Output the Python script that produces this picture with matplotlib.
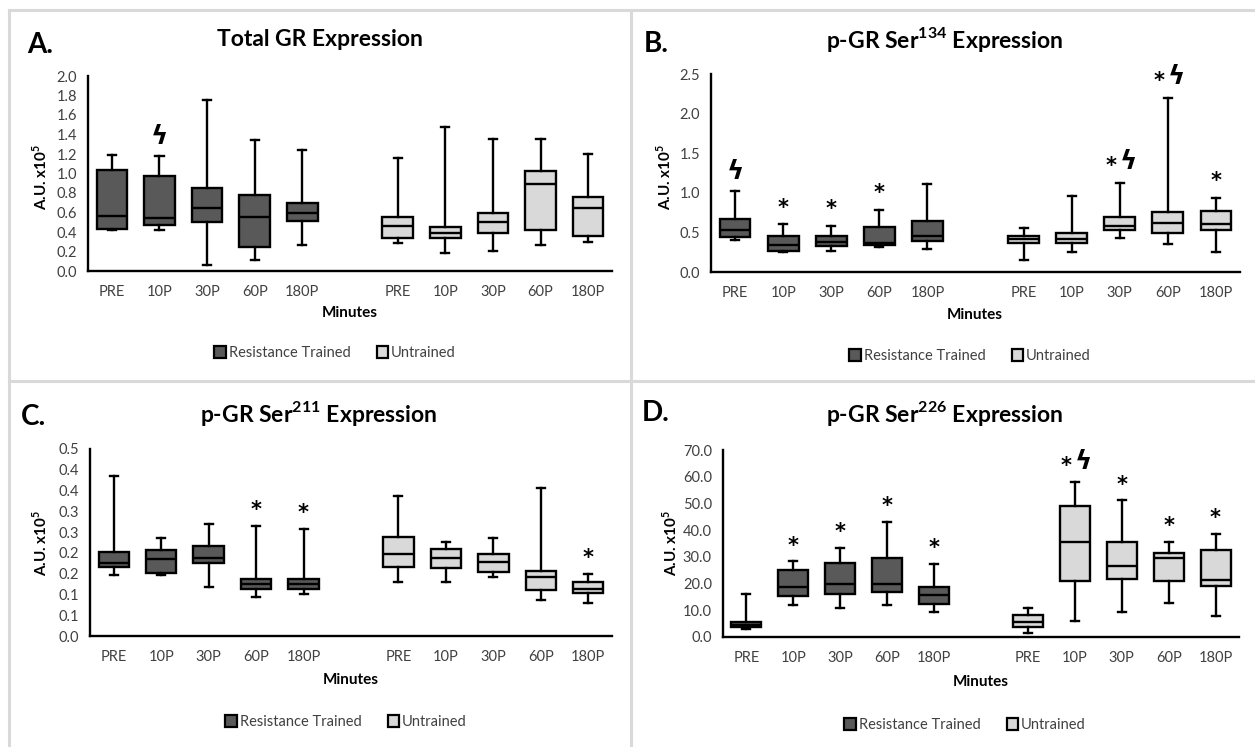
import matplotlib
matplotlib.use('Agg')
import matplotlib.pyplot as plt
from matplotlib.patches import Patch
from matplotlib.lines import Line2D

plt.rcParams['font.family'] = ['Lato', 'DejaVu Sans']
plt.rcParams['mathtext.fontset'] = 'custom'
plt.rcParams['mathtext.rm'] = 'Lato'
plt.rcParams['mathtext.bf'] = 'Lato:bold'

W, H = 1255, 747

# categories
times = ['PRE', '10P', '30P', '60P', '180P']
groups = ['Resistance Trained', 'Untrained']
positions = [1, 2, 3, 4, 5, 7, 8, 9, 10, 11]
tick_labels = times + times
dark = '#595959'
light = '#d9d9d9'

# A. Total GR
a_lo = [0.42, 0.42, 0.06, 0.11, 0.27, 0.29, 0.18, 0.21, 0.27, 0.30]
a_q1 = [0.435, 0.47, 0.50, 0.25, 0.51, 0.34, 0.34, 0.39, 0.42, 0.36]
a_med = [0.56, 0.54, 0.65, 0.555, 0.60, 0.466, 0.39, 0.50, 0.89, 0.65]
a_q3 = [1.04, 0.976, 0.85, 0.78, 0.70, 0.555, 0.45, 0.60, 1.03, 0.76]
a_hi = [1.19, 1.18, 1.75, 1.34, 1.24, 1.16, 1.48, 1.35, 1.35, 1.20]
a_sig = ['', 'ϟ', '', '', '', '', '', '', '', '']
a_ticks = [0.0, 0.2, 0.4, 0.6, 0.8, 1.0, 1.2, 1.4, 1.6, 1.8, 2.0]
a_ticklabels = ['0.0', '0.2', '0.4', '0.6', '0.8', '1.0', '1.2', '1.4', '1.6', '1.8', '2.0']

# B. p-GR Ser134
b_lo = [0.40, 0.25, 0.27, 0.31, 0.29, 0.15, 0.25, 0.43, 0.35, 0.25]
b_q1 = [0.44, 0.27, 0.33, 0.345, 0.39, 0.36, 0.37, 0.535, 0.49, 0.53]
b_med = [0.53, 0.34, 0.38, 0.36, 0.46, 0.42, 0.42, 0.58, 0.62, 0.61]
b_q3 = [0.67, 0.45, 0.46, 0.57, 0.65, 0.46, 0.49, 0.70, 0.755, 0.77]
b_hi = [1.02, 0.60, 0.58, 0.78, 1.11, 0.55, 0.96, 1.12, 2.20, 0.94]
b_sig = ['ϟ', '*', '*', '*', '', '', '', '*ϟ', '*ϟ', '*']
b_ticks = [0.0, 0.5, 1.0, 1.5, 2.0, 2.5]
b_ticklabels = ['0.0', '0.5', '1.0', '1.5', '2.0', '2.5']

# C. p-GR Ser211
c_lo = [0.147, 0.147, 0.117, 0.094, 0.100, 0.130, 0.130, 0.141, 0.086, 0.080]
c_q1 = [0.165, 0.152, 0.176, 0.113, 0.113, 0.167, 0.163, 0.154, 0.110, 0.104]
c_med = [0.175, 0.185, 0.188, 0.124, 0.125, 0.198, 0.187, 0.179, 0.143, 0.112]
c_q3 = [0.203, 0.207, 0.217, 0.138, 0.136, 0.239, 0.209, 0.198, 0.156, 0.131]
c_hi = [0.384, 0.235, 0.269, 0.265, 0.257, 0.337, 0.227, 0.237, 0.356, 0.150]
c_sig = ['', '', '', '*', '*', '', '', '', '', '*']
c_ticks = [0.0, 0.05, 0.10, 0.15, 0.20, 0.25, 0.30, 0.35, 0.40, 0.45]
c_ticklabels = ['0.0', '0.1', '0.1', '0.2', '0.2', '0.3', '0.3', '0.4', '0.4', '0.5']

# D. p-GR Ser226
d_lo = [3.0, 12.0, 11.0, 12.0, 9.5, 1.5, 6.1, 9.2, 12.6, 8.0]
d_q1 = [3.7, 15.4, 16.2, 16.7, 12.2, 3.6, 20.9, 21.7, 20.8, 19.2]
d_med = [4.5, 18.8, 20.0, 20.0, 15.6, 5.5, 35.5, 26.5, 29.4, 21.2]
d_q3 = [5.5, 25.2, 27.8, 29.5, 18.8, 8.2, 48.9, 35.4, 31.5, 32.6]
d_hi = [16.2, 28.3, 33.3, 43.2, 27.4, 10.8, 57.9, 51.1, 35.6, 38.6]
d_sig = ['', '*', '*', '*', '*', '', '*ϟ', '*', '*', '*']
d_ticks = [0, 10, 20, 30, 40, 50, 60, 70]
d_ticklabels = ['0.0', '10.0', '20.0', '30.0', '40.0', '50.0', '60.0', '70.0']


def fx(x):
    return x / W


def fy(y):
    return 1 - y / H


fig = plt.figure(figsize=(W / 100, H / 100), dpi=100)

# panel borders
for xs, ys in [((9, W), (10, 10)), ((9, 9), (10, H)), ((631, 631), (10, H)), ((9, W), (381, 381))]:
    fig.add_artist(Line2D([fx(xs[0]), fx(xs[1])], [fy(ys[0]), fy(ys[1])],
                          color='#d9d9d9', lw=2.2, transform=fig.transFigure))


def mark(ax, x, y, s):
    # star and/or lightning sign above a box
    if s == '*ϟ':
        parts = [('*', -6, 0), ('ϟ', 6, 3)]
    else:
        parts = [(s, 0, 2 if s == 'ϟ' else 0)]
    for ch, dx, dy in parts:
        size = 19 if ch == 'ϟ' else 15
        ax.annotate(ch, (x, y), xytext=(dx, dy), textcoords='offset points', ha='center', va='center',
                    fontsize=size, fontweight='bold', family=['DejaVu Sans'])


def panel(rect, lo, q1, med, q3, hi, sig, ticks, ticklabels, title, letter, tpos, lpos, xlab, ylab, leg):
    l, r, t, b = rect
    ax = fig.add_axes([fx(l), fy(b), fx(r) - fx(l), fy(t) - fy(b)])
    stats = [dict(whislo=lo[i], q1=q1[i], med=med[i], q3=q3[i], whishi=hi[i]) for i in range(len(lo))]
    bp = ax.bxp(stats, positions=positions, widths=0.64, showfliers=False, patch_artist=True,
                capwidths=0.17,
                boxprops=dict(linewidth=1.7, edgecolor='black'),
                medianprops=dict(color='black', linewidth=1.7),
                whiskerprops=dict(color='black', linewidth=1.7),
                capprops=dict(color='black', linewidth=1.7))
    for i, patch in enumerate(bp['boxes']):
        patch.set_facecolor(dark if i < 5 else light)
    ymax = ticks[-1]
    for p, h, s in zip(positions, hi, sig):
        if s:
            mark(ax, p, h + 0.085 * ymax, s)
    ax.set_xlim(0.5, 11.5)
    ax.set_ylim(0, ymax)
    ax.set_yticks(ticks)
    ax.set_yticklabels(ticklabels)
    ax.set_xticks(positions)
    ax.set_xticklabels(tick_labels)
    ax.tick_params(length=0, labelsize=10.5, labelcolor='#404040')
    ax.tick_params(axis='y', pad=8)
    ax.tick_params(axis='x', pad=10)
    for sp in ['top', 'right']:
        ax.spines[sp].set_visible(False)
    for sp in ['left', 'bottom']:
        ax.spines[sp].set_linewidth(1.7)
    fig.text(fx(tpos[0]), fy(tpos[1]), title, ha='center', va='center', fontsize=16.5, fontweight='bold')
    fig.text(fx(lpos[0]), fy(lpos[1]), letter, ha='center', va='center', fontsize=20, fontweight='bold')
    fig.text(fx(xlab[0]), fy(xlab[1]), 'Minutes', ha='center', va='center', fontsize=11, fontweight='bold')
    fig.text(fx(ylab[0]), fy(ylab[1]), r'A.U. x10$^{\mathbf{5}}$', ha='center', va='center',
             fontsize=11, fontweight='bold', rotation=90)
    handles = [Patch(facecolor=dark, edgecolor='black', linewidth=1.6, label=groups[0]),
               Patch(facecolor=light, edgecolor='black', linewidth=1.6, label=groups[1])]
    fig.legend(handles=handles, loc='center', bbox_to_anchor=(fx(leg[0]), fy(leg[1])), ncol=2,
               frameon=False, fontsize=10.5, handlelength=0.8, handleheight=0.8,
               handletextpad=0.2, columnspacing=1.8, labelcolor='#404040')
    return ax


panel((88, 612, 76, 271), a_lo, a_q1, a_med, a_q3, a_hi, a_sig, a_ticks, a_ticklabels,
      'Total GR Expression', 'A.', (320, 40), (40, 45), (350, 313), (40, 177), (335, 353))
panel((711, 1240, 74, 272), b_lo, b_q1, b_med, b_q3, b_hi, b_sig, b_ticks, b_ticklabels,
      r'p-GR Ser$^{\mathbf{134}}$ Expression', 'B.', (945, 39), (656, 44), (975, 315), (664, 177), (970, 356))
panel((90, 612, 449, 636), c_lo, c_q1, c_med, c_q3, c_hi, c_sig, c_ticks, c_ticklabels,
      r'p-GR Ser$^{\mathbf{211}}$ Expression', 'C.', (319, 413), (34, 417), (351, 680), (40, 543), (346, 722))
panel((723, 1239, 450, 637), d_lo, d_q1, d_med, d_q3, d_hi, d_sig, d_ticks, d_ticklabels,
      r'p-GR Ser$^{\mathbf{226}}$ Expression', 'D.', (945, 413), (656, 413), (981, 682), (670, 543), (965, 725))

fig.savefig('out.png', dpi=100)
